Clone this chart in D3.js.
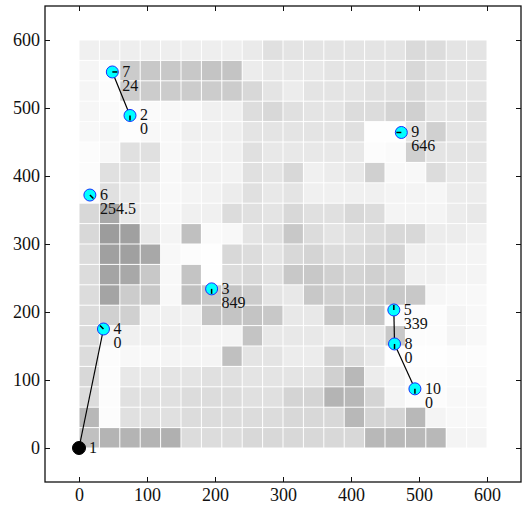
<!DOCTYPE html>
<meta charset="utf-8">
<title>Grid with numbered points</title>
<style>
body { margin: 0; background: #fff; }
</style>
<body>
<script src="https://cdn.jsdelivr.net/npm/d3@7"></script>
<script>

var width = 522,
    height = 508,
    serif = "'Liberation Serif', Tinos, 'Times New Roman', Times, serif";

// grid darkness per 30x30 cell, rows listed from the top (y 570-600) down to y 0-30
var shade = [
  [15,17,17,17,17,17,17,17,21,31, 27,27,27,27,27,27,37,35,27,27],
  [10, 3,52,55,55,55,59,59,19,23, 23,23,27,27,27,27,39,31,27,27],
  [10, 3,51,51,51,51,51,51,39,27, 19,27,27,27,31,31,39,31,27,27],
  [ 9, 5, 2, 5, 7, 7,15,15,34,39, 31,27,27,35,35,43,47,27,27,31],
  [ 7, 9, 2, 7, 7,15,15,17,27,27, 27,27,27,31, 1, 1,27,47,27,27],
  [ 3, 7,31,31, 7,13,13,15,31,23, 23,23,23,23, 3, 5,47,27,27,27],
  [ 3,31,31,23, 7,15,15,13,31,27, 39,15,19,23,47, 7, 7,35,23,23],
  [ 3,31,23,15, 7,11,13,19,31,23, 27,15,15,15,15,11,11, 9,19,19],
  [39,87,23,15, 7,15,15,35,31,27, 39,31,31,39,35,11,11,11,19,23],
  [39,99,95,23,11,63, 5, 7,27,31, 55,35,27,31,35,39,39,19,19,15],
  [35,95,95,87, 7, 3, 1,39,35,27, 39,43,35,35,39,43,15,15,11,11],
  [35,91,87,55, 7,59, 1,35,39,31, 55,55,47,43,47,43,15,15,11,11],
  [35,91,51,55, 7,63,55,59,51,27, 23,55,47,47,47,55,55, 9, 7, 7],
  [35,47,47,15,15,15,59,59,59,55, 23,23,55,47,55, 3, 3, 3,11, 7],
  [35,11,15,15,15,15,11,11,59,23, 23,23,19,23,23,55, 3, 3,11, 7],
  [35, 3, 7, 7,11,11,11,63,27,27, 19,19,47,35,23, 1, 1, 1, 3, 3],
  [39, 3,23,23,27,27,31,31,27,27, 27,27,47,71,19,11, 3, 3, 5, 5],
  [35, 3,31,31,31,35,35,35,31,31, 43,43,75,71,43,11, 3, 3, 7, 7],
  [71, 3,31,31,31,35,35,35,35,35, 39,39,39,71,43,43,71,11, 7, 7],
  [63,75,75,75,79,35,35,35,39,39, 39,39,39,39,71,71,71,71,11,11]
];
var cellSize = 30;

// numbered points
var ids      = [1, 2, 3, 4, 5, 6, 7, 8, 9, 10];
var pointX   = [0, 75, 195, 36, 463, 16, 49, 464, 474, 494];
var pointY   = [0, 489, 234, 175, 203, 372, 553, 153, 464, 87];
var values   = ["", "0", "849", "0", "339", "254.5", "24", "0", "646", "0"];
var headings = [0, 180, 180, 315, 0, 135, 90, 180, 270, 180]; // degrees, 0 = up
var links    = [[1, 4], [7, 2], [5, 8], [8, 10]];

var ticks = [0, 100, 200, 300, 400, 500, 600];

var x = d3.scaleLinear().domain([-50, 650]).range([45, 521]);
var y = d3.scaleLinear().domain([-50, 650]).range([482, 6]);
var grey = d3.scaleLinear().domain([0, 255]).range(["#ffffff", "#000000"]);

var svg = d3.select("body").append("svg")
    .attr("width", width)
    .attr("height", height);

// cells
var cells = [];
shade.forEach(function(row, r) {
  row.forEach(function(v, c) {
    cells.push({col: c, row: r, v: v});
  });
});

svg.append("g").selectAll("rect")
    .data(cells)
  .enter().append("rect")
    .attr("x", function(d) { return x(d.col * cellSize) + 0.5; })
    .attr("y", function(d) { return y(600 - d.row * cellSize) + 0.5; })
    .attr("width", x(cellSize) - x(0) - 1)
    .attr("height", y(0) - y(cellSize) - 1)
    .style("fill", function(d) { return grey(d.v); });

// axes, ticks pointing inward
function styleAxis(g) {
  g.attr("font-family", serif);
  g.select(".domain").remove();
  g.selectAll(".tick line").attr("stroke", "#111");
  g.selectAll(".tick text")
      .style("font-family", serif)
      .style("font-size", "18px")
      .attr("fill", "#111");
}

svg.append("g")
    .attr("transform", "translate(0," + y(-50) + ")")
    .call(d3.axisBottom(x).tickValues(ticks).tickSize(-5).tickPadding(6))
    .call(styleAxis);

svg.append("g")
    .attr("transform", "translate(" + x(-50) + ",0)")
    .call(d3.axisLeft(y).tickValues(ticks).tickSize(-5).tickPadding(5))
    .call(styleAxis);

svg.append("g")
    .attr("transform", "translate(0," + y(650) + ")")
    .call(d3.axisTop(x).tickValues(ticks).tickSize(-5).tickFormat(""))
    .call(styleAxis);

svg.append("g")
    .attr("transform", "translate(" + x(650) + ",0)")
    .call(d3.axisRight(y).tickValues(ticks).tickSize(-5).tickFormat(""))
    .call(styleAxis);

svg.append("rect")
    .attr("x", x(-50))
    .attr("y", y(650))
    .attr("width", x(650) - x(-50))
    .attr("height", y(-50) - y(650))
    .style("fill", "none")
    .style("stroke", "#111")
    .style("stroke-width", 1.3);

// points
var points = ids.map(function(id, i) {
  return {id: id, x: pointX[i], y: pointY[i], value: values[i], heading: headings[i]};
});
var byId = {};
points.forEach(function(p) { byId[p.id] = p; });

svg.append("g").selectAll("line")
    .data(links)
  .enter().append("line")
    .attr("x1", function(d) { return x(byId[d[0]].x); })
    .attr("y1", function(d) { return y(byId[d[0]].y); })
    .attr("x2", function(d) { return x(byId[d[1]].x); })
    .attr("y2", function(d) { return y(byId[d[1]].y); })
    .style("stroke", "#000")
    .style("stroke-width", 1.2);

var node = svg.append("g").selectAll("g")
    .data(points)
  .enter().append("g")
    .attr("transform", function(d) { return "translate(" + x(d.x) + "," + y(d.y) + ")"; });

node.append("circle")
    .attr("r", function(d) { return d.id === 1 ? 6.5 : 6; })
    .style("fill", function(d) { return d.id === 1 ? "#000" : "#00ffff"; })
    .style("stroke", function(d) { return d.id === 1 ? "#000" : "#1030ff"; })
    .style("stroke-width", 1);

node.filter(function(d) { return d.id !== 1; }).append("line")
    .attr("x1", 0)
    .attr("y1", 0)
    .attr("x2", function(d) { return 5 * Math.sin(d.heading * Math.PI / 180); })
    .attr("y2", function(d) { return -5 * Math.cos(d.heading * Math.PI / 180); })
    .style("stroke", "#000")
    .style("stroke-width", 1.5);

node.append("text")
    .attr("x", 10)
    .attr("y", 5)
    .style("font-family", serif)
    .style("font-size", "16px")
    .style("fill", "#111")
    .text(function(d) { return d.id; });

node.append("text")
    .attr("x", 10)
    .attr("y", 19)
    .style("font-family", serif)
    .style("font-size", "16px")
    .style("fill", "#111")
    .text(function(d) { return d.value; });

</script>
